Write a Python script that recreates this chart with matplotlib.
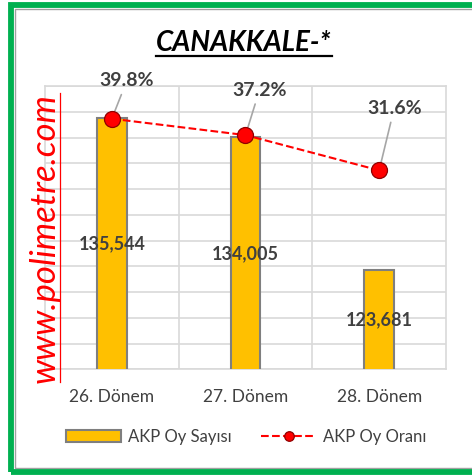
import matplotlib
matplotlib.use("Agg")
import matplotlib.pyplot as plt
from matplotlib.lines import Line2D
from matplotlib.patches import Rectangle
import numpy as np

# data
donem = ['26. Dönem', '27. Dönem', '28. Dönem']
oy_sayisi = [135544, 134005, 123681]
oy_orani = [39.8, 37.2, 31.6]
title = 'CANAKKALE-*'
watermark = 'www.polimetre.com'

plt.rcParams['font.family'] = ['Lato', 'DejaVu Sans']

W, H = 472, 475
fig = plt.figure(figsize=(W / 100, H / 100), dpi=100)


def px(x, y):
    # pixel coords (top-left origin) -> figure fraction
    return x / W, 1 - y / H


dark = '#404040'
grid = '#D9D9D9'

# plot area: 45..446 px wide, 86..369 px tall
ax = fig.add_axes([45 / W, 1 - 369.3 / H, 401 / W, 283.3 / H])
x = np.arange(len(donem))
bars = ax.bar(x, oy_sayisi, width=0.224, color='#FFC000', edgecolor='#7F7F7F',
              linewidth=1.5, zorder=3, label='AKP Oy Sayısı')
ax.set_xlim(-0.5, len(donem) - 0.5)
ax.set_ylim(116000, 138000)
ax.set_yticks(np.arange(116000, 138001, 2000))
ax.set_xticks(x)
ax.set_xticklabels(donem, fontsize=12.5, color=dark)
ax.set_xticks(np.arange(0.5, len(donem) - 0.5, 1), minor=True)
ax.tick_params(axis='x', which='both', length=0, pad=14)
ax.tick_params(axis='y', length=0, labelleft=False)
ax.grid(axis='y', color=grid, linewidth=1.2, zorder=0)
ax.grid(axis='x', which='minor', color=grid, linewidth=1.2, zorder=0)
ax.set_axisbelow(True)
for s in ax.spines.values():
    s.set_color(grid)
    s.set_linewidth(1.2)

# value labels in the middle of the bars
for xi, v in zip(x, oy_sayisi):
    ax.text(xi, (v + 116000) / 2, f'{v:,}', ha='center', va='center',
            fontsize=13, fontweight='bold', color=dark, zorder=5)

# secondary axis for the rate line
ax2 = ax.twinx()
ax2.set_ylim(0, 45)
ax2.set_yticks([])
for s in ax2.spines.values():
    s.set_visible(False)
line, = ax2.plot(x, oy_orani, color='#FF0000', linestyle='--', linewidth=1.5,
                 marker='o', markersize=11.5, markerfacecolor='#FF0000',
                 markeredgecolor='#900000', markeredgewidth=0.9, zorder=4,
                 label='AKP Oy Oranı')
offsets = [(15, 38), (14, 45), (15, 62)]
for xi, v, off in zip(x, oy_orani, offsets):
    ax2.annotate(f'{v}%', xy=(xi, v), xytext=off, textcoords='offset pixels',
                 ha='center', va='center', fontsize=14, fontweight='bold',
                 color=dark,
                 arrowprops=dict(arrowstyle='-', color='#A6A6A6', lw=1.2,
                                 shrinkA=2, shrinkB=0))

# title with underline
t = fig.text(*px(244, 43), title, ha='center', va='center', fontsize=20,
             fontweight='bold', fontstyle='italic', color='black')
fig.canvas.draw()
bb = t.get_window_extent().transformed(fig.transFigure.inverted())
fig.add_artist(Line2D([bb.x0, bb.x1], [px(0, 56)[1]] * 2, color='black',
                      linewidth=1.6, transform=fig.transFigure))

# watermark
fig.text(*px(45, 238), watermark, rotation=90, ha='center', va='center',
         fontsize=25, fontstyle='italic', color='#FF0000')
fig.add_artist(Line2D([px(60, 0)[0]] * 2, [px(0, 93)[1], px(0, 382)[1]],
                      color='#FF0000', linewidth=0.9, transform=fig.transFigure))

# legend
fig.legend(handles=[bars, line], loc='center', bbox_to_anchor=px(246, 437),
           ncol=2, frameon=False, fontsize=12, labelcolor=dark,
           handlelength=3.3, handleheight=0.7, handletextpad=0.4,
           columnspacing=1.8, numpoints=1, markerscale=0.6)

# green frame
fig.add_artist(Rectangle(px(14.5, 467.5), (480 - 14.5) / W, (467.5 - 8.5) / H,
                         fill=False, edgecolor='#A0A0A0', linewidth=1.0,
                         transform=fig.transFigure))
fig.add_artist(Rectangle(px(11, 471.5), (485 - 11) / W, (471.5 - 5) / H,
                         fill=False, edgecolor='#00B050', linewidth=4.2,
                         transform=fig.transFigure))

fig.savefig('out.png', dpi=100)
